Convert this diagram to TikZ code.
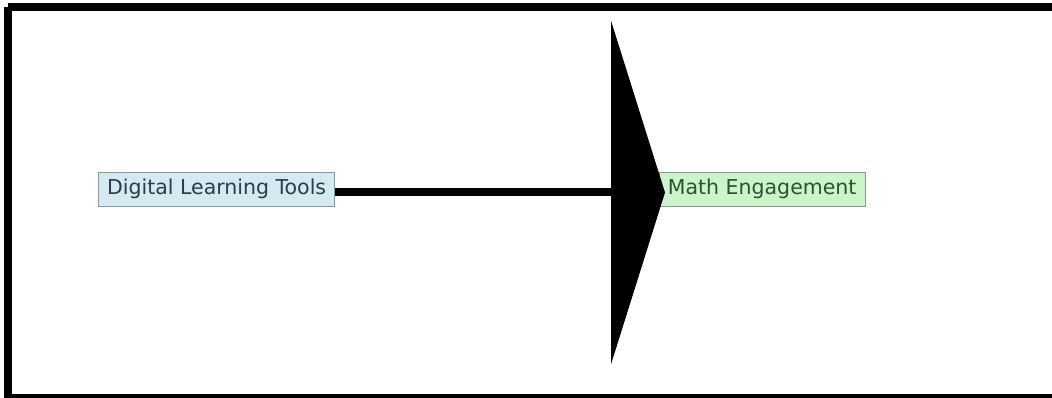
\documentclass[tikz,border=0pt]{standalone}
\usepackage{fontspec}
\setmainfont{DejaVu Sans}
\usetikzlibrary{arrows.meta}
\definecolor{toolfill}{HTML}{D4E9F1}
\definecolor{toolink}{HTML}{2A3E48}
\definecolor{mathfill}{HTML}{CDF3CB}
\definecolor{mathink}{HTML}{2C5230}
\definecolor{boxline}{HTML}{8A9A96}

\begin{document}
\begin{tikzpicture}[x=1pt, y=-1pt,
	every node/.style={font=\fontsize{20.5}{24}\selectfont, inner xsep=8.5pt, minimum height=34pt, draw=boxline, line width=0.8pt},
	tool/.style={fill=toolfill, text=toolink},
	target/.style={fill=mathfill, text=mathink}]
	\useasboundingbox (0,0) rectangle (1052,398);
	\draw[line width=8pt] (8,7) -- (1060,7);
	\draw[line width=8pt] (8,7) -- (8,398);
	\draw[line width=8pt] (8,398) -- (1060,398);
	\node[tool, anchor=east] (dlt) at (335,189) {Digital Learning Tools};
	\node[target, anchor=west] (me) at (659,189) {Math Engagement};
	\draw[line width=8pt, -{Triangle[length=54pt, width=343pt]}, shorten >=-6pt]
		([yshift=-3.5pt]dlt.east) -- ([yshift=-3.5pt]me.west);
\end{tikzpicture}
\end{document}
